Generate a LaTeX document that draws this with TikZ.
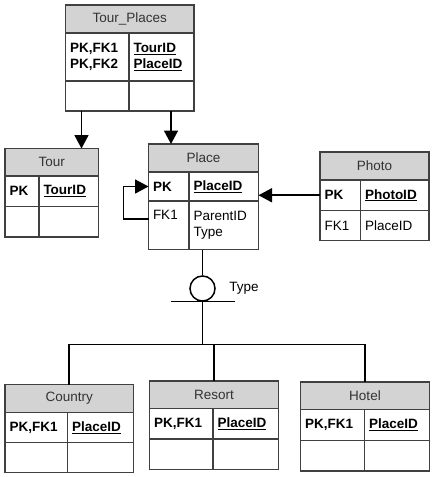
\documentclass[tikz,border=0pt]{standalone}
\usepackage{fontspec}
\setmainfont{Liberation Sans}
\usepackage{tikz}
\usetikzlibrary{calc}
\usetikzlibrary{arrows.meta}
\usetikzlibrary{positioning}
\definecolor{headgray}{RGB}{211,211,211}
\definecolor{edge}{RGB}{64,64,64}

\begin{document}
\begin{tikzpicture}[x=1pt,y=-1pt,
  every node/.style={font=\fontsize{13.5}{16.7}\selectfont},
  cell/.style={draw=edge, line width=1.2pt, anchor=north west, inner xsep=4.5pt, inner ysep=0pt, outer sep=0pt, align=left},
  head/.style={cell, fill=headgray, text=black!80, inner xsep=0pt, align=center},
  link/.style={line width=1.7pt, black},
  rel/.style={link, -{Triangle[width=14pt,length=13.5pt]}}]
\useasboundingbox (0,0) rectangle (436,477);

% Tour_Places
\node[head, minimum width=128.5pt, minimum height=28pt] (tp) at (65.5,5) {Tour\_Places};
\node[cell, text width=54.5pt, minimum height=48pt] (tp-k) at (tp.south west) {\textbf{PK,FK1}\\\textbf{PK,FK2}};
\node[cell, text width=56pt, minimum height=48pt] (tp-a) at (tp-k.north east) {\textbf{\underline{TourID}}\\\textbf{\underline{PlaceID}}};
\node[cell, minimum width=63.5pt, minimum height=30pt] (tp-ek) at (tp-k.south west) {};
\node[cell, minimum width=65pt, minimum height=30pt] (tp-ea) at (tp-ek.north east) {};

% Tour
\node[head, minimum width=93.5pt, minimum height=27.5pt] (tour) at (5,148.5) {Tour};
\node[cell, text width=25pt, minimum height=30.5pt] (tour-k) at (tour.south west) {\textbf{PK}};
\node[cell, text width=50.5pt, minimum height=30.5pt] (tour-a) at (tour-k.north east) {\textbf{\underline{TourID}}};
\node[cell, minimum width=34pt, minimum height=30.5pt] (tour-ek) at (tour-k.south west) {};
\node[cell, minimum width=59.5pt, minimum height=30.5pt] (tour-ea) at (tour-ek.north east) {};

% Place
\node[head, minimum width=110pt, minimum height=28pt] (place) at (148.5,144) {Place};
\node[cell, text width=31.5pt, minimum height=29pt] (place-k) at (place.south west) {\textbf{PK}};
\node[cell, text width=60.5pt, minimum height=29pt] (place-a) at (place-k.north east) {\textbf{\underline{PlaceID}}};
\node[cell, text width=31.5pt, minimum height=48.5pt] (place-fk) at (place-k.south west) {FK1\\\strut};
\node[cell, text width=60.5pt, minimum height=48.5pt] (place-fa) at (place-fk.north east) {ParentID\\Type};

% Photo
\node[head, minimum width=109pt, minimum height=28pt] (photo) at (320,152) {Photo};
\node[cell, text width=31.5pt, minimum height=30.5pt] (photo-k) at (photo.south west) {\textbf{PK}};
\node[cell, text width=59.5pt, minimum height=30.5pt] (photo-a) at (photo-k.north east) {\textbf{\underline{PhotoID}}};
\node[cell, text width=31.5pt, minimum height=30pt] (photo-fk) at (photo-k.south west) {FK1};
\node[cell, text width=59.5pt, minimum height=30pt] (photo-fa) at (photo-fk.north east) {PlaceID};

% Country
\node[head, minimum width=128.5pt, minimum height=28pt] (country) at (5,384.5) {Country};
\node[cell, text width=53.5pt, minimum height=30pt] (country-k) at (country.south west) {\textbf{PK,FK1}};
\node[cell, text width=57pt, minimum height=30pt] (country-a) at (country-k.north east) {\textbf{\underline{PlaceID}}};
\node[cell, minimum width=62.5pt, minimum height=30pt] (country-ek) at (country-k.south west) {};
\node[cell, minimum width=66pt, minimum height=30pt] (country-ea) at (country-ek.north east) {};

% Resort
\node[head, minimum width=129pt, minimum height=27.5pt] (resort) at (149.5,381) {Resort};
\node[cell, text width=54.5pt, minimum height=30.5pt] (resort-k) at (resort.south west) {\textbf{PK,FK1}};
\node[cell, text width=56.5pt, minimum height=30.5pt] (resort-a) at (resort-k.north east) {\textbf{\underline{PlaceID}}};
\node[cell, minimum width=63.5pt, minimum height=30.5pt] (resort-ek) at (resort-k.south west) {};
\node[cell, minimum width=65.5pt, minimum height=30.5pt] (resort-ea) at (resort-ek.north east) {};

% Hotel
\node[head, minimum width=129pt, minimum height=27.5pt] (hotel) at (300.5,382) {Hotel};
\node[cell, text width=55pt, minimum height=31pt] (hotel-k) at (hotel.south west) {\textbf{PK,FK1}};
\node[cell, text width=56pt, minimum height=31pt] (hotel-a) at (hotel-k.north east) {\textbf{\underline{PlaceID}}};
\node[cell, minimum width=64pt, minimum height=30.5pt] (hotel-ek) at (hotel-k.south west) {};
\node[cell, minimum width=65pt, minimum height=30.5pt] (hotel-ea) at (hotel-ek.north east) {};

% references
\draw[rel] ([xshift=16pt]tp-ek.south west) -- ([xshift=16pt]tp-ek.south west |- tour.north);
\draw[rel] ([xshift=42pt]tp-ea.south west) -- ([xshift=42pt]tp-ea.south west |- place.north);
\draw[rel] (photo-k.west) -- (photo-k.west -| place-a.east);
\draw[rel] ([yshift=-18pt]place-fk.north west) -- ++(-25,0) |- (place-k.west);

% subtype discriminator
\node[circle, draw, line width=1.5pt, minimum size=25pt, inner sep=0pt] (disc) at (202.5,288.5) {};
\node[right=10pt of disc] (disc-type) {Type};
\coordinate (bar) at (202.5,301.5);
\coordinate (bus) at (202.5,344.5);
\draw[link] (disc.north |- place-fa.south) -- (disc.north);
\draw[line width=1.5pt] ([xshift=-32pt]bar) -- ([xshift=32pt]bar);
\draw[link] (disc.south) -- (bus);
\draw[link] (country.north) |- (bus) -| (hotel.north);
\draw[link] (resort.north) -- (resort.north |- bus);

\end{tikzpicture}
\end{document}
